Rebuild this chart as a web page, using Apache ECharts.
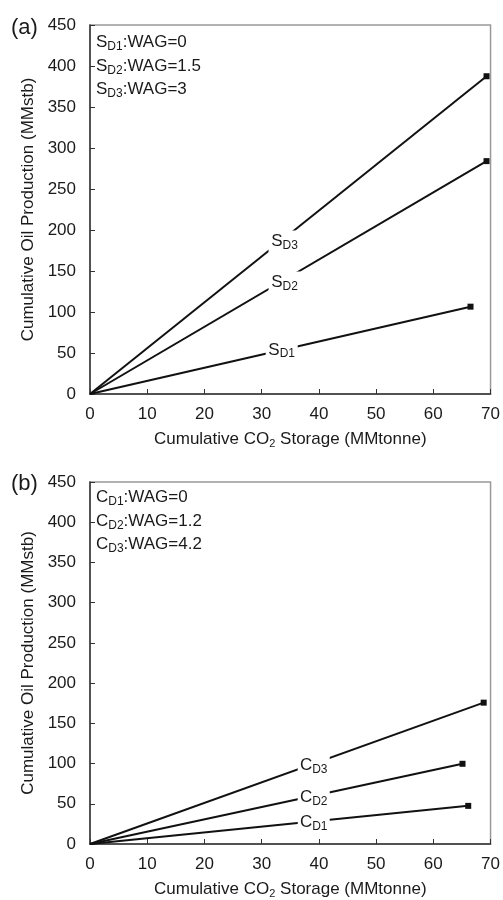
<!DOCTYPE html>
<html>
<head>
<meta charset="utf-8">
<script src="https://cdn.jsdelivr.net/npm/echarts@6/dist/echarts.min.js"></script>
<style>
  html, body { margin: 0; padding: 0; background: #fff; }
  #chart { width: 503px; height: 900px; }
</style>
</head>
<body>
<div id="chart"></div>
<script>
// Axis ranges and ticks shared by both panels
const xMin = 0, xMax = 70, xStep = 10;
const yMin = 0, yMax = 450, yStep = 50;

// Panel (a): S cases, [CO2 storage, oil production]
const sD1 = [[0, 0], [66.5, 106.5]];
const sD2 = [[0, 0], [69.3, 284]];
const sD3 = [[0, 0], [69.3, 387.5]];
const sNames = ['D1', 'D2', 'D3'];
const sLabelAt = [[33.5, 53.8], [34, 136], [34, 186]];
const sLegend = ['WAG=0', 'WAG=1.5', 'WAG=3'];

// Panel (b): C cases
const cD1 = [[0, 0], [66.1, 47.4]];
const cD2 = [[0, 0], [65.1, 99.7]];
const cD3 = [[0, 0], [68.8, 175.7]];
const cNames = ['D1', 'D2', 'D3'];
const cLabelAt = [[39.1, 26.5], [39.1, 57.5], [39.1, 97.5]];
const cLegend = ['WAG=0', 'WAG=1.2', 'WAG=4.2'];

const FONT = 'Liberation Sans, Arial, sans-serif';
const INK = '#111';
const TXT = '#1a1a1a';

const grids = [
  { left: 90, top: 25, width: 403, height: 369 },
  { left: 90, top: 482, width: 403, height: 367 }
];

function xAxisFor(i) {
  return {
    gridIndex: i, type: 'value', min: xMin, max: xMax, interval: xStep,
    name: '{t|Cumulative CO}{s|2}{t| Storage (MMtonne)}',
    nameLocation: 'middle', nameGap: 35,
    nameTextStyle: {
      rich: {
        t: { fontFamily: FONT, fontSize: 17, color: TXT },
        s: { fontFamily: FONT, fontSize: 11, color: TXT, padding: [9, 0, 0, 0] }
      }
    },
    axisLine: { show: true, lineStyle: { color: '#333', width: 1.5 } },
    axisTick: { show: true, inside: true, length: 5, lineStyle: { color: '#333' } },
    axisLabel: { fontFamily: FONT, fontSize: 17, color: TXT, margin: 12 },
    splitLine: { show: false }
  };
}

function yAxisFor(i) {
  return {
    gridIndex: i, type: 'value', min: yMin, max: yMax, interval: yStep,
    name: 'Cumulative Oil Production (MMstb)',
    nameLocation: 'middle', nameGap: 49, nameRotate: 90,
    nameTextStyle: { fontFamily: FONT, fontSize: 17, color: TXT },
    axisLine: { show: true, lineStyle: { color: '#333', width: 1.5 } },
    axisTick: { show: true, inside: true, length: 5, lineStyle: { color: '#333' } },
    axisLabel: { fontFamily: FONT, fontSize: 17, color: TXT, margin: 14 },
    splitLine: { show: false }
  };
}

function lineSeries(data, gi) {
  return {
    type: 'line', xAxisIndex: gi, yAxisIndex: gi, z: 2,
    data: data.map((p, k) => ({
      value: p,
      symbol: k === data.length - 1 ? 'rect' : 'none',
      symbolSize: 6
    })),
    lineStyle: { color: INK, width: 2 },
    itemStyle: { color: INK },
    animation: false, silent: true
  };
}

const subRich = {
  m: { fontFamily: FONT, fontSize: 17, color: TXT },
  s: { fontFamily: FONT, fontSize: 12, color: TXT, padding: [8, 0, 0, 0] }
};

// Series name tags: a white box breaks the line and the name sits on it
function tagSeries(letter, names, positions, gi) {
  return {
    type: 'scatter', xAxisIndex: gi, yAxisIndex: gi, z: 5,
    symbol: 'rect', symbolSize: [32, 22],
    itemStyle: { color: '#fff', opacity: 1 },
    data: positions.map((p, k) => ({ value: p, name: names[k] })),
    label: {
      show: true, position: 'inside', color: TXT,
      formatter: (pr) => '{m|' + letter + '}{s|' + pr.name + '}',
      rich: subRich
    },
    emphasis: { disabled: true },
    animation: false, silent: true
  };
}

function legendGraphic(letter, names, texts, left, top) {
  const lines = names.map((n, k) =>
    '{m|' + letter + '}{s|' + n + '}{m|:' + texts[k] + '}').join('\n');
  return {
    type: 'text', left: left, top: top, z: 10,
    style: {
      text: lines,
      fontFamily: FONT, fontSize: 17, lineHeight: 23.5, fill: TXT,
      rich: {
        m: { fontFamily: FONT, fontSize: 17, fill: TXT, lineHeight: 23.5 },
        s: { fontFamily: FONT, fontSize: 12, fill: TXT, padding: [8, 0, 0, 0], lineHeight: 23.5 }
      }
    }
  };
}

const chart = echarts.init(document.getElementById('chart'));
chart.setOption({
  animation: false,
  backgroundColor: '#fff',
  grid: grids.map(g => Object.assign({ show: true, borderColor: '#999', borderWidth: 1.5, backgroundColor: 'transparent' }, g)),
  xAxis: [xAxisFor(0), xAxisFor(1)],
  yAxis: [yAxisFor(0), yAxisFor(1)],
  series: [
    lineSeries(sD1, 0), lineSeries(sD2, 0), lineSeries(sD3, 0),
    tagSeries('S', sNames, sLabelAt, 0),
    lineSeries(cD1, 1), lineSeries(cD2, 1), lineSeries(cD3, 1),
    tagSeries('C', cNames, cLabelAt, 1)
  ],
  graphic: [
    { type: 'text', left: 11, top: 17, style: { text: '(a)', fontFamily: FONT, fontSize: 22, fill: TXT } },
    { type: 'text', left: 11, top: 473, style: { text: '(b)', fontFamily: FONT, fontSize: 22, fill: TXT } },
    legendGraphic('S', sNames, sLegend, 96, 31),
    legendGraphic('C', cNames, cLegend, 96, 486)
  ]
});
</script>
</body>
</html>
